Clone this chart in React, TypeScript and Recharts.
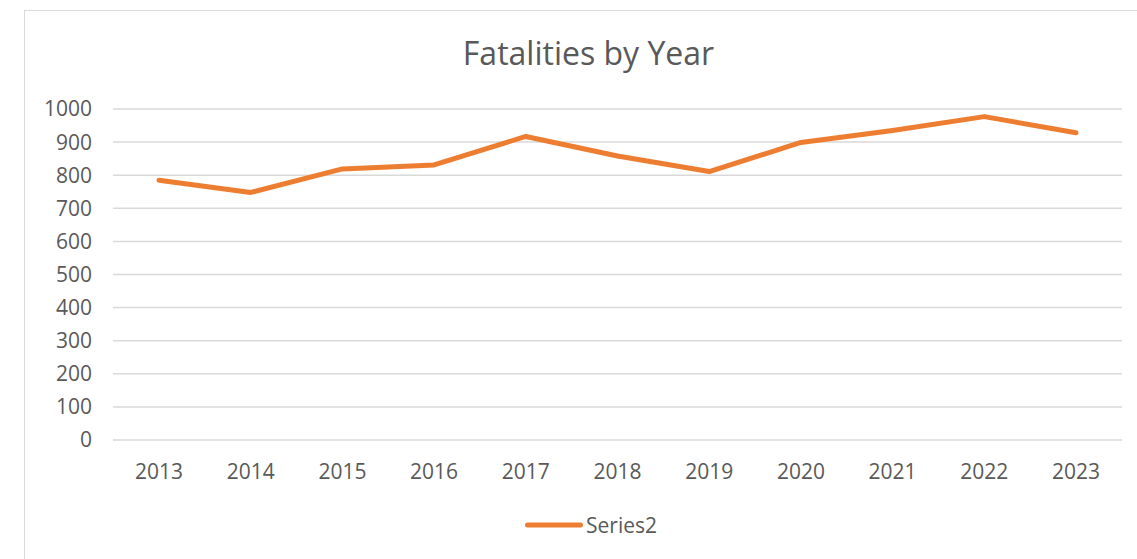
import { LineChart, Line, XAxis, YAxis, CartesianGrid, Legend } from 'recharts';

const years = ['2013', '2014', '2015', '2016', '2017', '2018', '2019', '2020', '2021', '2022', '2023'];
const fatalities = [785, 748, 819, 831, 917, 858, 811, 899, 935, 977, 928];
const yTicks = [0, 100, 200, 300, 400, 500, 600, 700, 800, 900, 1000];

const data = years.map((year, i) => ({ year, value: fatalities[i] }));

const FONT = '"Open Sans", "Noto Sans", sans-serif';
const TEXT = '#595959';
const ORANGE = '#ED7D31';

function LegendContent() {
  return (
    <div style={{ display: 'flex', justifyContent: 'center', alignItems: 'center', fontFamily: FONT, fontSize: 21, color: TEXT, paddingLeft: 60 }}>
      <svg width={58} height={8} style={{ marginRight: 3 }}>
        <line x1={2.5} y1={4} x2={55.5} y2={4} stroke={ORANGE} strokeWidth={5} strokeLinecap="round" />
      </svg>
      <span>Series2</span>
    </div>
  );
}

export default function App() {
  return (
    <div style={{ position: 'relative', width: 1137, height: 559, background: '#fff', overflow: 'hidden' }}>
      <style>{'body{margin:0}'}</style>
      <div style={{ position: 'absolute', left: 24, top: 10, width: 1200, height: 600, borderLeft: '1px solid #d9d9d9', borderTop: '1px solid #d9d9d9' }} />
      <div style={{ position: 'absolute', left: 0, top: 31, width: 1097, textAlign: 'center', fontFamily: FONT, fontSize: 32, color: TEXT, paddingLeft: 40 }}>
        Fatalities by Year
      </div>
      <LineChart
        width={1137}
        height={559}
        data={data}
        margin={{ top: 109, right: 15, left: 0, bottom: 5 }}
        style={{ position: 'absolute', left: 0, top: 0 }}
      >
        <CartesianGrid vertical={false} stroke="#d9d9d9" strokeWidth={1.5} />
        <XAxis
          dataKey="year"
          axisLine={false}
          tickLine={false}
          tickSize={0}
          tickMargin={24}
          height={71}
          padding={{ left: 46, right: 46 }}
          tick={{ fontSize: 21, fill: TEXT, fontFamily: FONT }}
        />
        <YAxis
          width={113}
          domain={[0, 1000]}
          ticks={yTicks}
          axisLine={false}
          tickLine={false}
          tickSize={0}
          tickMargin={21}
          tick={{ fontSize: 21, fill: TEXT, fontFamily: FONT }}
        />
        <Legend verticalAlign="bottom" height={43} content={<LegendContent />} />
        <Line
          type="linear"
          dataKey="value"
          name="Series2"
          stroke={ORANGE}
          strokeWidth={5}
          strokeLinecap="round"
          strokeLinejoin="round"
          dot={false}
          activeDot={false}
          isAnimationActive={false}
        />
      </LineChart>
    </div>
  );
}
